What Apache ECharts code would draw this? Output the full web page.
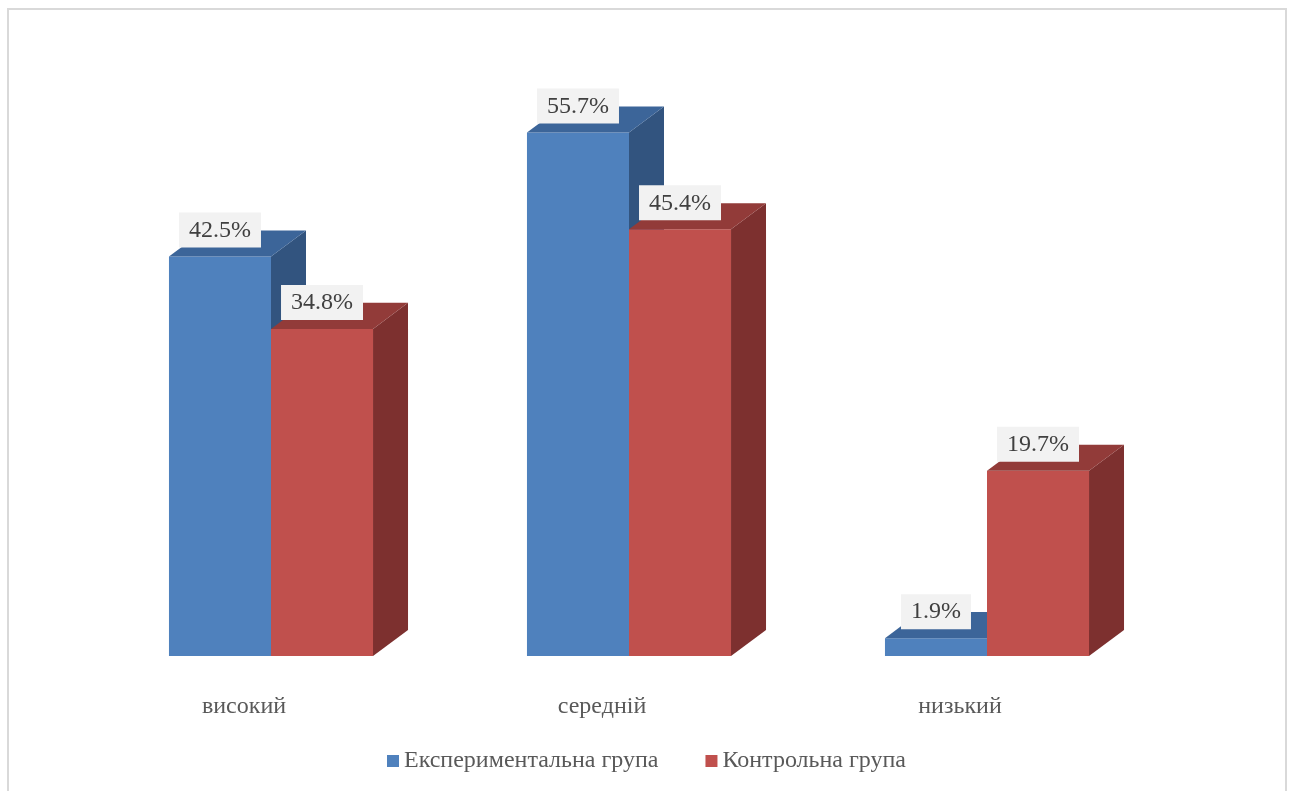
<!DOCTYPE html>
<html>
<head>
<meta charset="utf-8">
<script src="https://cdn.jsdelivr.net/npm/echarts@6/dist/echarts.min.js"></script>
<style>
  html, body { margin: 0; padding: 0; background: #ffffff; }
  #chart { width: 1293px; height: 791px; }
</style>
</head>
<body>
<div id="chart"></div>
<script>
// Levels and the share of each group at every level (%)
const categories = ['високий', 'середній', 'низький'];
const seriesNames = ['Експериментальна група', 'Контрольна група'];
const expValues = [42.5, 55.7, 1.9];
const ctrlValues = [34.8, 45.4, 19.7];

// Face colours for the pseudo-3D columns: front, top, side
const palettes = [
  { front: '#4f81bd', top: '#3c6599', side: '#32547f' },
  { front: '#c0504d', top: '#923b39', side: '#7d302f' }
];

const FONT = '"Liberation Serif", "Times New Roman", serif';

function renderColumn(params, api) {
  const si = params.seriesIndex;
  const pal = palettes[si];
  const cat = api.value(0);
  const val = api.value(1);
  const base = api.coord([cat, 0]);
  const top = api.coord([cat, val]);
  const catW = api.size([1, 0])[0];
  const barW = catW * 0.285;
  const dx = barW * 0.343;
  const dy = barW * 0.255;
  const x0 = base[0] - barW + si * barW;
  const x1 = x0 + barW;
  const yt = top[1];
  const yb = base[1];
  const label = val.toFixed(1) + '%';
  return {
    type: 'group',
    children: [
      {
        type: 'polygon',
        shape: { points: [[x1, yt], [x1 + dx, yt - dy], [x1 + dx, yb - dy], [x1, yb]] },
        style: { fill: pal.side }
      },
      {
        type: 'rect',
        shape: { x: x0, y: yt, width: barW, height: yb - yt },
        style: { fill: pal.front }
      },
      {
        type: 'polygon',
        shape: { points: [[x0, yt], [x1, yt], [x1 + dx, yt - dy], [x0 + dx, yt - dy]] },
        style: { fill: pal.top }
      },
      {
        type: 'text',
        z2: 100,
        x: x0 + barW / 2,
        y: yt - 9,
        style: {
          text: label,
          fontSize: 24,
          fontFamily: FONT,
          fill: '#404040',
          align: 'center',
          verticalAlign: 'bottom',
          backgroundColor: '#f2f2f2',
          padding: [6, 10, 5, 10]
        }
      }
    ]
  };
}

const chart = echarts.init(document.getElementById('chart'), null, { renderer: 'canvas' });

chart.setOption({
  backgroundColor: '#ffffff',
  animation: false,
  graphic: [
    {
      type: 'rect',
      shape: { x: 8, y: 9, width: 1278, height: 790 },
      style: { fill: 'none', stroke: '#d9d9d9', lineWidth: 2 },
      silent: true,
      z: -10
    }
  ],
  grid: { left: 92, right: 127, top: 92, bottom: 135 },
  legend: {
    data: seriesNames,
    top: 744,
    left: 'center',
    icon: 'rect',
    itemWidth: 12,
    itemHeight: 12,
    itemGap: 47,
    textStyle: { fontFamily: FONT, fontSize: 24, color: '#595959' }
  },
  xAxis: {
    type: 'category',
    data: categories,
    axisLine: { show: false },
    axisTick: { show: false },
    splitLine: { show: false },
    axisLabel: {
      margin: 39,
      fontFamily: FONT,
      fontSize: 24,
      color: '#595959',
      padding: [0, 54, 0, 0]
    }
  },
  yAxis: {
    type: 'value',
    min: 0,
    max: 60,
    show: false,
    splitLine: { show: false }
  },
  series: [
    {
      name: seriesNames[0],
      type: 'custom',
      renderItem: renderColumn,
      itemStyle: { color: palettes[0].front },
      encode: { x: 0, y: 1 },
      data: expValues.map((v, i) => [i, v])
    },
    {
      name: seriesNames[1],
      type: 'custom',
      renderItem: renderColumn,
      itemStyle: { color: palettes[1].front },
      encode: { x: 0, y: 1 },
      data: ctrlValues.map((v, i) => [i, v])
    }
  ]
});
</script>
</body>
</html>
